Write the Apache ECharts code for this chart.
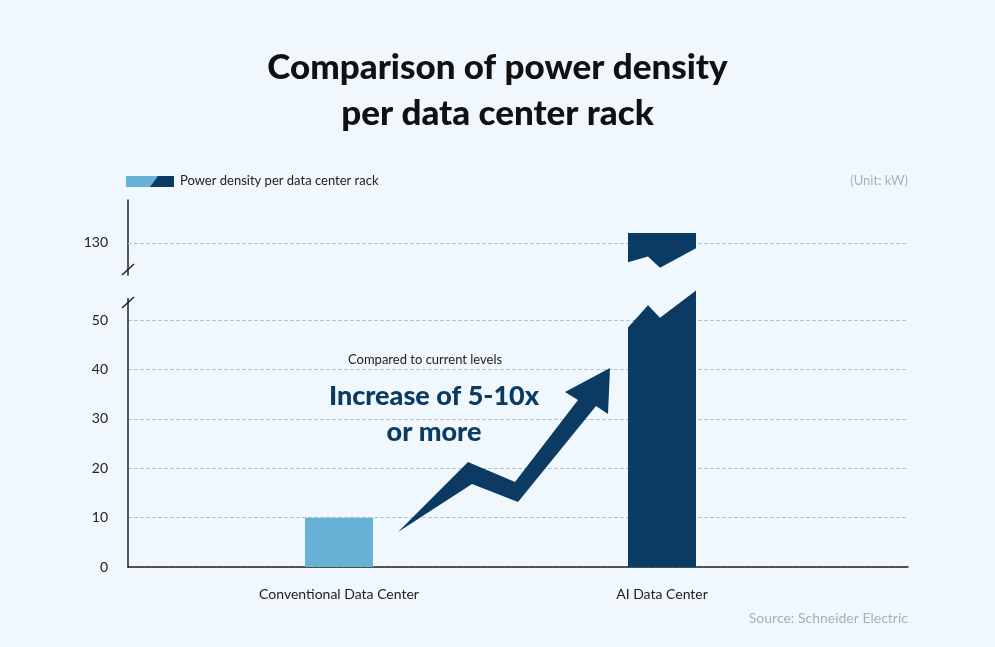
<!DOCTYPE html>
<html><head><meta charset="utf-8">
<script src="https://cdn.jsdelivr.net/npm/echarts@6/dist/echarts.min.js"></script>
<style>html,body{margin:0;background:#f0f7fd}#c{width:995px;height:647px}</style>
</head><body><div id="c"></div>
<script>
const categories = ['Conventional Data Center', 'AI Data Center'];
const catPos = [211, 534];
const values = [10, 132];
const shownLower = [10, 50];
const lowerTicks = [0, 10, 20, 30, 40, 50];
const upperTick = 130;

const chart = echarts.init(document.getElementById('c'));
const font = 'Lato, "Noto Sans", sans-serif';
const dark = '#0b3a63', light = '#67b0d6';

function lowerBar(params, api) {
  const x = api.value(0), v = api.value(1);
  const [cx, y0] = api.coord([x, 0]);
  const hw = 34;
  if (v <= 55) {
    const [, y1] = api.coord([x, v]);
    return {type: 'rect', shape: {x: cx - hw, y: y1, width: hw * 2, height: y0 - y1}, style: {fill: light}};
  }
  const p = (val) => api.coord([x, val])[1];
  return {type: 'polygon', shape: {points: [
    [cx - hw, y0], [cx - hw, p(48.5)], [cx - 14, p(53)], [cx - 2, p(50.5)], [cx + hw, p(56)], [cx + hw, y0]
  ]}, style: {fill: dark}};
}
function upperBar(params, api) {
  const x = api.value(0), v = api.value(1);
  const cx = api.coord([x, v])[0], hw = 34;
  const p = (val) => api.coord([x, val])[1];
  return {type: 'polygon', shape: {points: [
    [cx - hw, p(v)], [cx + hw, p(v)], [cx + hw, p(128.9)], [cx - 2, p(124.9)], [cx - 14, p(127.2)], [cx - hw, p(126)]
  ]}, style: {fill: dark}};
}

const lowerData = catPos.map((x, i) => [x, values[i] > 55 ? 60 : values[i]]);
const upperData = [[catPos[1], values[1]]];

chart.setOption({
  backgroundColor: '#f0f7fd',
  textStyle: {fontFamily: font},
  title: {text: 'Comparison of power density\nper data center rack', left: 'center', top: 40,
    textStyle: {fontSize: 35, fontWeight: 900, color: '#111', lineHeight: 46, fontFamily: font}},
  grid: [
    {left: 128, right: 87, top: 293, bottom: 80},
    {left: 128, right: 87, top: 200, bottom: 372}
  ],
  xAxis: [
    {gridIndex: 0, type: 'value', min: 0, max: 780, splitLine: {show: false},
      axisLine: {show: true, lineStyle: {color: '#222', width: 1.5}}, axisTick: {show: false},
      axisLabel: {customValues: catPos, formatter: v => categories[catPos.indexOf(v)], color: '#222', fontSize: 14, margin: 20}},
    {gridIndex: 1, type: 'value', min: 0, max: 780, show: false}
  ],
  yAxis: [
    {gridIndex: 0, type: 'value', min: 0, max: 55.5, interval: 10,
      axisLine: {show: true, lineStyle: {color: '#222', width: 1.5}}, axisTick: {show: false},
      axisLabel: {customValues: lowerTicks, color: '#222', fontSize: 14, margin: 20},
      splitLine: {showMaxLine: false, lineStyle: {color: '#b8c2cc', type: 'dashed'}}},
    {gridIndex: 1, type: 'value', min: 123.4, max: 138.8, splitLine: {show: false},
      axisLine: {show: true, lineStyle: {color: '#222', width: 1.5}}, axisTick: {show: false},
      axisLabel: {customValues: [upperTick], color: '#222', fontSize: 14, margin: 20}}
  ],
  series: [
    {type: 'custom', xAxisIndex: 0, yAxisIndex: 0, renderItem: lowerBar, data: lowerData, z: 5},
    {type: 'custom', xAxisIndex: 1, yAxisIndex: 1, renderItem: upperBar, data: upperData, z: 5},
    {type: 'line', xAxisIndex: 1, yAxisIndex: 1, data: [], z: 1,
      markLine: {silent: true, symbol: 'none', label: {show: false}, z: 1,
        lineStyle: {color: '#b8c2cc', type: 'dashed', width: 1}, data: [{yAxis: upperTick}]}},
    {type: 'scatter', xAxisIndex: 0, yAxisIndex: 0, symbolSize: 1, itemStyle: {opacity: 0},
      data: [[catPos[0], shownLower[0]]],
      label: {show: true, position: 'top', distance: 6, formatter: '10', color: '#222', fontSize: 14}},
    {type: 'scatter', xAxisIndex: 0, yAxisIndex: 0, symbolSize: 1, itemStyle: {opacity: 0}, z: 10,
      data: [[catPos[1] + 2, 53.6]],
      label: {show: true, position: 'top', distance: 0, formatter: String(shownLower[1]), color: '#222', fontSize: 14}},
    {type: 'scatter', xAxisIndex: 1, yAxisIndex: 1, symbolSize: 1, itemStyle: {opacity: 0},
      data: upperData,
      label: {show: true, position: 'top', distance: 6, formatter: String(values[1]), color: '#222', fontSize: 14}}
  ],
  graphic: [
    {type: 'polygon', shape: {points: [[126,176],[158,176],[158,187],[126,187]]}, style: {fill: light}},
    {type: 'polygon', shape: {points: [[158,176],[174,176],[174,187],[150,187]]}, style: {fill: dark}},
    {type: 'text', left: 180, top: 174, style: {text: 'Power density per data center rack', fontSize: 13, fill: '#222', fontFamily: font}},
    {type: 'text', right: 87, top: 174, style: {text: '(Unit: kW)', fontSize: 13, fill: '#aab0b6', fontFamily: font}},
    {type: 'text', right: 87, top: 611, style: {text: 'Source: Schneider Electric', fontSize: 14, fill: '#aab0b6', fontFamily: font}},
    {type: 'rect', shape: {x: 118, y: 276, width: 20, height: 22}, style: {fill: '#f0f7fd'}, z: 50},
    {type: 'line', shape: {x1: 122, y1: 275, x2: 134, y2: 264}, style: {stroke: '#222', lineWidth: 1.5}, z: 51},
    {type: 'line', shape: {x1: 122, y1: 308, x2: 134, y2: 297}, style: {stroke: '#222', lineWidth: 1.5}, z: 51},
    {type: 'polygon', z: 10, shape: {points: [[398,532],[468,462],[515,482],[578,400],[565,392],[610,368],[608,414],[596,406],[518,502],[472,484]]},
      style: {fill: dark}},
    {type: 'text', left: 348, top: 353, style: {text: 'Compared to current levels', fontSize: 13, fill: '#222', fontFamily: font}},
    {type: 'text', x: 434, y: 378, style: {text: 'Increase of 5-10x\nor more', fontSize: 27, fontWeight: 900, fill: dark, align: 'center', lineHeight: 36, fontFamily: font}}
  ]
});
</script></body></html>
